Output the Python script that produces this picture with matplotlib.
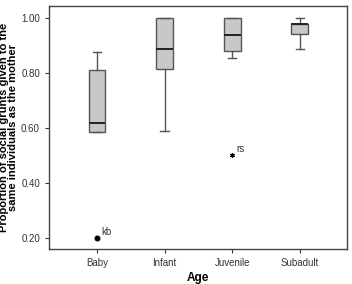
import matplotlib
matplotlib.use('Agg')
import matplotlib.pyplot as plt

plt.rcParams['font.family'] = ['Liberation Sans', 'DejaVu Sans']

# data
ages = ['Baby', 'Infant', 'Juvenile', 'Subadult']
whislo = [0.585, 0.591, 0.857, 0.888]
q1 = [0.585, 0.815, 0.881, 0.942]
med = [0.620, 0.887, 0.939, 0.979]
q3 = [0.812, 1.000, 1.000, 0.979]
whishi = [0.876, 1.000, 1.000, 1.000]
outlier_vals = [0.20, 0.502]
outlier_pos = [1, 3]
outlier_labels = ['kb', 'rs']
outlier_markers = ['o', (6, 2, 0)]
yticks = [0.20, 0.40, 0.60, 0.80, 1.00]

stats = []
for i, name in enumerate(ages):
    stats.append({'label': name, 'whislo': whislo[i], 'q1': q1[i], 'med': med[i],
                  'q3': q3[i], 'whishi': whishi[i], 'fliers': []})

fig = plt.figure(figsize=(3.52, 2.84), dpi=100)
ax = fig.add_axes([49/352, 1 - 249/284, 298/352, 243/284])

edge = '#555555'
ax.bxp(stats, positions=[1, 2, 3, 4], widths=0.25, patch_artist=True,
       showfliers=False,
       boxprops=dict(facecolor='#c8c8c8', edgecolor=edge, linewidth=1.0),
       medianprops=dict(color='#222222', linewidth=1.4),
       whiskerprops=dict(color=edge, linewidth=1.0),
       capprops=dict(color=edge, linewidth=1.0),
       capwidths=0.12)

for p, v, lab, m in zip(outlier_pos, outlier_vals, outlier_labels, outlier_markers):
    ax.plot(p, v, marker=m, color='black', markersize=3.5, markeredgewidth=0.8,
            linestyle='none')
    ax.annotate(lab, (p, v), xytext=(3, 2), textcoords='offset points',
                fontsize=7, color='#333333')

ax.set_xlim(0.29, 4.7)
ax.set_ylim(0.16, 1.045)
ax.set_yticks(yticks)
ax.set_yticklabels([f'{t:.2f}' for t in yticks])
ax.set_xticks([1, 2, 3, 4])
ax.set_xticklabels(ages)
ax.tick_params(labelsize=7, colors='#333333', length=3, width=0.8)

for s in ax.spines.values():
    s.set_color('#444444')
    s.set_linewidth(1.0)

ax.set_xlabel('Age', fontsize=8.5, fontweight='bold', labelpad=3)
ax.set_ylabel('Proportion of social grunts given to the\nsame individuals as the mother',
              fontsize=8, fontweight='bold', labelpad=2, linespacing=0.95)

plt.savefig('out.png', dpi=100)
